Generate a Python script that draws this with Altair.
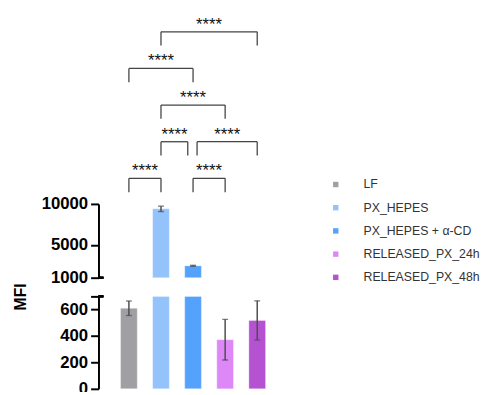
import altair as alt
import pandas as pd

groups = ["LF", "PX_HEPES", "PX_HEPES + α-CD", "RELEASED_PX_24h", "RELEASED_PX_48h"]
means = [610, 9400, 2450, 372, 518]
errors = [55, 330, 60, 154, 148]
colors = ["#a0a0a4", "#94c2fa", "#55a2fc", "#de88f8", "#b452d2"]

bracket_from = [0, 2, 1, 2, 1, 0, 1]
bracket_to = [1, 3, 2, 4, 3, 2, 4]
bracket_level = [1, 1, 2, 2, 3, 4, 5]
bracket_label = ["****"] * 7

LOW_MAX = 700
HIGH_MIN = 1000
HIGH_MAX = 10000

df = pd.DataFrame({"group": groups, "idx": list(range(len(groups))),
                   "mean": means, "err": errors})
df["lo"] = df["mean"] - df["err"]
df["hi"] = df["mean"] + df["err"]
df["low_top"] = df["mean"].clip(upper=LOW_MAX)

rows = []
for s, e, l, t in zip(bracket_from, bracket_to, bracket_level, bracket_label):
    x1, x2 = float(s), float(e)
    for s2, e2, l2 in zip(bracket_from, bracket_to, bracket_level):
        if l2 == l and (s2, e2) != (s, e):
            if e == s2:
                x2 = e - 0.165
            if s == e2:
                x1 = s + 0.125
    rows.append({"x1": x1, "x2": x2, "level": l, "tip": l - 0.376,
                 "mid": (x1 + x2) / 2, "label": t})
br = pd.DataFrame(rows)

FONT = "Liberation Sans"
xs = alt.Scale(domain=[-0.795, 5.03], nice=False, zero=False)
W = 200
H = 384
ERR = "#4d4d4d"
BR = "#444444"
bar_style = dict(size=17, stroke="white", strokeOpacity=0.35, strokeWidth=1)

color = alt.Color("group:N", scale=alt.Scale(domain=groups, range=colors),
                  legend=alt.Legend(title=None, orient="none", legendX=235, legendY=170,
                                    symbolType="square", symbolSize=30, symbolStrokeWidth=0,
                                    labelFontSize=12.5, labelFont=FONT, labelColor="#333333",
                                    labelOffset=22, rowPadding=10.6))

axis_common = dict(domainWidth=2, tickWidth=2, tickSize=8, domainColor="black",
                   tickColor="black", labelFont=FONT, labelFontSize=17,
                   labelFontWeight="bold", labelColor="black", labelPadding=3,
                   grid=False, labelOverlap=False, format="d", orient="left")

# ---------- upper (broken) segment ----------
ys_top = alt.Scale(domain=[HIGH_MIN, HIGH_MAX], range=[271, 196], nice=False, zero=False)
base_top = alt.Chart(df).transform_filter(f"datum.mean > {HIGH_MIN}")
bars_top = base_top.mark_bar(**bar_style).encode(
    x=alt.X("idx:Q", scale=xs, axis=None),
    y=alt.Y("mean:Q", scale=ys_top,
            axis=alt.Axis(values=[1000, 5000, 10000], title=None, **axis_common)),
    y2=alt.datum(HIGH_MIN),
    color=color,
)
err_top = base_top.mark_rule(color=ERR, strokeWidth=1.5).encode(
    x=alt.X("idx:Q", scale=xs, axis=None), y=alt.Y("lo:Q", scale=ys_top), y2="hi:Q")
cap_top_lo = base_top.mark_tick(orient="horizontal", size=6, thickness=1.4, color=ERR).encode(
    x=alt.X("idx:Q", scale=xs, axis=None), y=alt.Y("lo:Q", scale=ys_top))
cap_top_hi = base_top.mark_tick(orient="horizontal", size=6, thickness=1.4, color=ERR).encode(
    x=alt.X("idx:Q", scale=xs, axis=None), y=alt.Y("hi:Q", scale=ys_top))
foot_top = alt.Chart(df).mark_rule(color="black", strokeWidth=2).encode(
    x=alt.value(0), x2=alt.value(5), y=alt.datum(HIGH_MIN, scale=ys_top))
top_layer = alt.layer(bars_top, err_top, cap_top_lo, cap_top_hi, foot_top)

# ---------- lower segment ----------
ys_low = alt.Scale(domain=[0, LOW_MAX], range=[384, 290], nice=False, zero=False)
base_low = alt.Chart(df)
bars_low = base_low.mark_bar(**bar_style).encode(
    x=alt.X("idx:Q", scale=xs, axis=None),
    y=alt.Y("low_top:Q", scale=ys_low,
            axis=alt.Axis(values=[0, 200, 400, 600, 700],
                          labelExpr="datum.value == 700 ? '' : datum.label",
                          title="MFI", titleFont=FONT, titleFontSize=16,
                          titleFontWeight="bold", titleColor="black",
                          titleX=-79, titleY=290, titleBaseline="middle",
                          **axis_common)),
    y2=alt.datum(0),
    color=color,
)
low_err = base_low.transform_filter(f"datum.hi < {LOW_MAX}")
err_low = low_err.mark_rule(color=ERR, strokeWidth=1.5).encode(
    x=alt.X("idx:Q", scale=xs, axis=None), y=alt.Y("lo:Q", scale=ys_low), y2="hi:Q")
cap_low_lo = low_err.mark_tick(orient="horizontal", size=6, thickness=1.4, color=ERR).encode(
    x=alt.X("idx:Q", scale=xs, axis=None), y=alt.Y("lo:Q", scale=ys_low))
cap_low_hi = low_err.mark_tick(orient="horizontal", size=6, thickness=1.4, color=ERR).encode(
    x=alt.X("idx:Q", scale=xs, axis=None), y=alt.Y("hi:Q", scale=ys_low))
cap_low = alt.Chart(df).mark_rule(color="black", strokeWidth=2).encode(
    x=alt.value(0), x2=alt.value(5), y=alt.datum(LOW_MAX, scale=ys_low))
low_layer = alt.layer(bars_low, err_low, cap_low_lo, cap_low_hi, cap_low)

# ---------- significance brackets ----------
ys_br = alt.Scale(domain=[1, 5], range=[170, 21], nice=False, zero=False)
bh = alt.Chart(br).mark_rule(color=BR, strokeWidth=1.3).encode(
    x=alt.X("x1:Q", scale=xs, axis=None), x2="x2:Q", y=alt.Y("level:Q", scale=ys_br, axis=None))
bl = alt.Chart(br).mark_rule(color=BR, strokeWidth=1.3).encode(
    x=alt.X("x1:Q", scale=xs, axis=None), y=alt.Y("level:Q", scale=ys_br, axis=None), y2="tip:Q")
brr = alt.Chart(br).mark_rule(color=BR, strokeWidth=1.3).encode(
    x=alt.X("x2:Q", scale=xs, axis=None), y=alt.Y("level:Q", scale=ys_br, axis=None), y2="tip:Q")
stars = alt.Chart(br).mark_text(font=FONT, fontSize=17, color="#111111",
                                baseline="alphabetic", dy=-2).encode(
    x=alt.X("mid:Q", scale=xs, axis=None), y=alt.Y("level:Q", scale=ys_br, axis=None),
    text="label:N")
br_layer = alt.layer(bh, bl, brr, stars)

chart = alt.layer(low_layer, top_layer, br_layer).resolve_scale(y="independent").properties(
    width=W, height=H,
    autosize=alt.AutoSizeParams(type="none"),
    padding={"left": 92, "top": 0, "right": 193, "bottom": 0}
).configure(font=FONT).configure_view(stroke=None)

chart.save("out.html", embed_options={"renderer": "svg", "actions": False})
